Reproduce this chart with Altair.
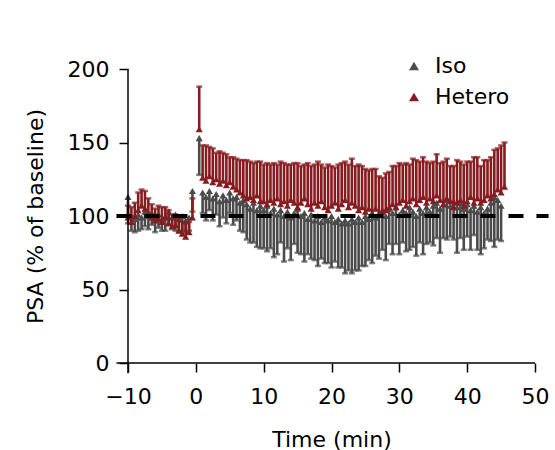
import altair as alt
import pandas as pd

# ---- data ----
pre_time = [-10, -9.5, -9, -8.5, -8, -7.5, -7, -6.5, -6, -5.5, -5, -4.5, -4, -3.5, -3, -2.5, -2, -1.5, -1, -0.5]
post_time = [0.5, 1, 1.5, 2, 2.5, 3, 3.5, 4, 4.5, 5, 5.5, 6, 6.5, 7, 7.5, 8, 8.5, 9, 9.5,
             10, 10.5, 11, 11.5, 12, 12.5, 13, 13.5, 14, 14.5, 15, 15.5, 16, 16.5, 17, 17.5, 18, 18.5, 19, 19.5,
             20, 20.5, 21, 21.5, 22, 22.5, 23, 23.5, 24, 24.5, 25, 25.5, 26, 26.5, 27, 27.5, 28, 28.5, 29, 29.5,
             30, 30.5, 31, 31.5, 32, 32.5, 33, 33.5, 34, 34.5, 35, 35.5, 36, 36.5, 37, 37.5, 38, 38.5, 39, 39.5,
             40, 40.5, 41, 41.5, 42, 42.5, 43, 43.5, 44, 44.5, 45, 45.5]

iso_time = pre_time + post_time[:-1]
iso_mean = [113, 100, 98, 101, 99, 103, 100, 102, 99, 101, 98, 100, 103, 99, 101, 98, 100, 97, 99, 117,
            153, 116, 113, 117, 112, 115, 110, 114, 111, 116, 112, 113, 109, 111, 108, 105, 109, 104, 107,
            104, 107, 102, 105, 101, 104, 100, 103, 99, 102, 105, 100, 102, 98, 101, 97, 100, 96, 99, 97,
            100, 96, 98, 95, 97, 95, 98, 96, 99, 96, 100, 98, 101, 99, 102, 104, 100, 105, 102, 106,
            101, 104, 102, 106, 103, 100, 105, 102, 106, 103, 107, 109, 105, 108, 111, 107, 110, 106, 109, 105,
            108, 104, 107, 103, 106, 102, 105, 109, 113, 111, 107]
iso_sem = [18, 10, 9, 11, 8, 10, 9, 8, 10, 9, 8, 10, 9, 8, 11, 9, 10, 8, 9, 14,
           25, 14, 16, 13, 15, 14, 17, 15, 16, 14, 18, 16, 19, 22, 24, 23, 27, 25, 29,
           26, 31, 24, 33, 27, 22, 31, 25, 29, 21, 30, 26, 33, 24, 30, 27, 34, 25, 31, 29,
           35, 27, 33, 30, 36, 32, 37, 33, 36, 30, 34, 28, 33, 26, 31, 27, 30, 24, 28, 25,
           27, 22, 26, 29, 24, 27, 23, 28, 25, 21, 27, 24, 30, 23, 27, 21, 26, 31, 24, 28,
           22, 27, 20, 26, 32, 24, 21, 26, 34, 27, 24]

het_time = pre_time + post_time
het_mean = [99, 96, 100, 104, 107, 105, 102, 99, 97, 98, 96, 99, 95, 93, 94, 90, 88, 86, 89, 99,
            159, 126, 124, 127, 123, 125, 122, 124, 121, 123, 120, 118, 116, 114, 112, 113, 111, 114, 110,
            110, 108, 111, 109, 112, 108, 110, 107, 111, 109, 106, 109, 112, 108, 105, 109, 107, 110, 106, 104,
            107, 109, 105, 108, 111, 106, 109, 107, 104, 106, 103, 105, 102, 105, 101, 103, 104, 106, 108, 106,
            109, 111, 107, 110, 112, 108, 111, 113, 109, 112, 110, 114, 111, 108, 112, 110, 106, 109, 111, 107,
            110, 113, 109, 112, 109, 111, 114, 112, 115, 118, 116, 120]
het_sem = [8, 10, 9, 12, 11, 12, 10, 9, 8, 9, 10, 7, 9, 8, 7, 9, 8, 9, 7, 13,
           29, 22, 24, 20, 23, 18, 22, 19, 21, 17, 20, 21, 22, 24, 26, 24, 25, 23, 27,
           25, 28, 24, 27, 23, 29, 26, 28, 24, 27, 30, 25, 23, 28, 29, 26, 30, 25, 27, 31,
           27, 24, 30, 28, 26, 29, 30, 27, 31, 28, 29, 26, 30, 27, 26, 23, 25, 24, 26, 28,
           27, 24, 29, 25, 27, 30, 26, 27, 28, 24, 27, 28, 25, 29, 27, 24, 28, 29, 26, 28,
           27, 24, 31, 28, 25, 27, 24, 28, 30, 28, 32, 30]

series_names = ["Iso", "Hetero"]
series_colors = ["#4b4b4b", "#861c1f"]

x_ticks = [-10, 0, 10, 20, 30, 40, 50]
y_ticks = [0, 50, 100, 150, 200]
baseline_level = [100]
ref_line_extent = [-11.7, 52.0]

# ---- tables ----
iso = pd.DataFrame({"t": iso_time, "mean": iso_mean, "sem": iso_sem})
iso["series"] = "Iso"
iso["lo"] = iso["mean"] - iso["sem"]   # Iso bars drawn downward
iso["hi"] = iso["mean"]
iso["cap"] = iso["lo"]

het = pd.DataFrame({"t": het_time, "mean": het_mean, "sem": het_sem})
het["series"] = "Hetero"
het["lo"] = het["mean"]                # Hetero bars drawn upward
het["hi"] = het["mean"] + het["sem"]
het["cap"] = het["hi"]

df = pd.concat([iso, het], ignore_index=True)

FONT = "DejaVu Sans"

xs = alt.Scale(domain=[-10, 50], nice=False, zero=False)
ys = alt.Scale(domain=[0, 200], nice=False, zero=False)
cs = alt.Scale(domain=series_names, range=series_colors)

xaxis = alt.Axis(values=x_ticks, title="Time (min)", grid=False, domain=False,
                 tickSize=9, tickWidth=1.5, tickColor="black", labelFlush=False,
                 labelFont=FONT, labelFontSize=22, labelColor="black", labelPadding=14,
                 titleFont=FONT, titleFontSize=22, titleFontWeight="normal", titleColor="black",
                 titleBaseline="alphabetic", titleY=83)
yaxis = alt.Axis(values=y_ticks, title="PSA (% of baseline)", grid=False, domain=False,
                 tickSize=9, tickWidth=1.5, tickColor="black", labelFlush=False,
                 labelFont=FONT, labelFontSize=22, labelColor="black", labelPadding=10,
                 titleFont=FONT, titleFontSize=22, titleFontWeight="normal", titleColor="black",
                 titleAngle=-90, titleBaseline="alphabetic", titleAlign="center",
                 titleX=-86, titleY=147)

layers = []
for name in series_names:
    sub = df[df["series"] == name]
    base = alt.Chart(sub)
    bars = base.mark_rule(strokeWidth=2.6).encode(
        x=alt.X("t:Q", scale=xs, axis=xaxis),
        y=alt.Y("lo:Q", scale=ys, axis=yaxis),
        y2="hi:Q",
        color=alt.Color("series:N", scale=cs, legend=None),
    )
    caps = base.mark_tick(orient="horizontal", size=6, thickness=2.5).encode(
        x=alt.X("t:Q", scale=xs),
        y=alt.Y("cap:Q", scale=ys),
        color=alt.Color("series:N", scale=cs, legend=None),
    )
    pts = base.mark_point(shape="triangle-up", filled=True, opacity=1, size=50).encode(
        x=alt.X("t:Q", scale=xs),
        y=alt.Y("mean:Q", scale=ys),
        color=alt.Color("series:N", scale=cs, legend=None),
    )
    layers += [bars, caps, pts]

# legend carrier (points, drawn invisibly beneath)
legend_layer = alt.Chart(df).mark_point(shape="triangle-up", filled=True, opacity=0, size=1).encode(
    x=alt.X("t:Q", scale=xs),
    y=alt.Y("mean:Q", scale=ys),
    color=alt.Color("series:N", scale=cs, title=None,
                    legend=alt.Legend(orient="none", legendX=275, legendY=-14,
                                      symbolType="triangle-up", symbolSize=100,
                                      symbolOpacity=1, symbolStrokeWidth=0,
                                      labelFont=FONT, labelFontSize=22, labelColor="black",
                                      labelOffset=10, rowPadding=9, padding=0)),
)

ref = alt.Chart(pd.DataFrame({"x": [ref_line_extent[0]], "x2": [ref_line_extent[1]],
                              "y": baseline_level})).mark_rule(
    color="black", strokeWidth=4, strokeDash=[15, 13]).encode(
    x=alt.X("x:Q", scale=xs), x2="x2:Q", y=alt.Y("y:Q", scale=ys))

# axis lines (crossing style, as in the reference)
yline = alt.Chart(pd.DataFrame({"x": [-10], "y": [-7], "y2": [200]})).mark_rule(
    color="black", strokeWidth=1.5).encode(
    x=alt.X("x:Q", scale=xs), y=alt.Y("y:Q", scale=ys), y2="y2:Q")
xline = alt.Chart(pd.DataFrame({"x": [-11.7], "x2": [50], "y": [0]})).mark_rule(
    color="black", strokeWidth=1.5).encode(
    x=alt.X("x:Q", scale=xs), x2="x2:Q", y=alt.Y("y:Q", scale=ys))

chart = alt.layer(legend_layer, *layers, ref, yline, xline).properties(
    width=407, height=294,
    autosize=alt.AutoSizeParams(type="none"),
    padding={"left": 128, "top": 69, "right": 20, "bottom": 87},
    background="white",
).configure_view(stroke=None)

chart.save("out.html", embed_options={"renderer": "svg", "actions": False})
